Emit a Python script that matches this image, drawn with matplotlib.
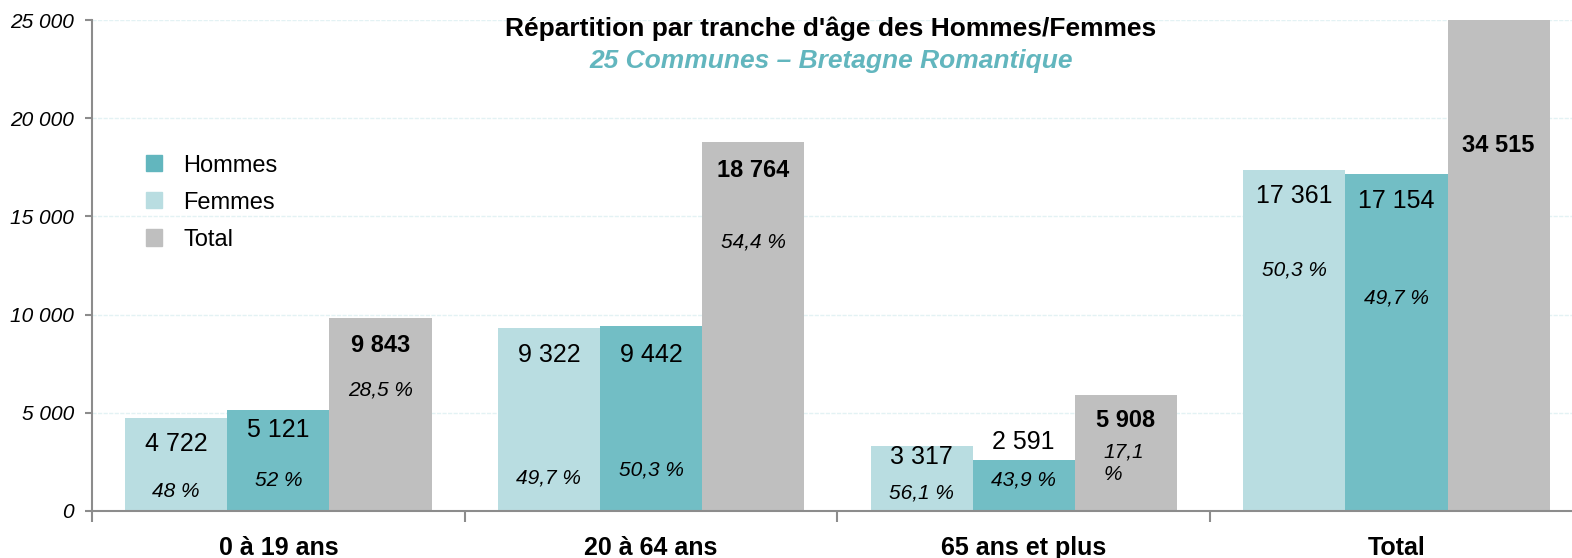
import numpy as np
import matplotlib.pyplot as plt
from matplotlib.patches import Patch

# données
categories = ['0 à 19 ans', '20 à 64 ans', '65 ans et plus', 'Total']
femmes = [4722, 9322, 3317, 17361]
hommes = [5121, 9442, 2591, 17154]
total = [9843, 18764, 5908, 34515]
pct_femmes = ['48 %', '49,7 %', '56,1 %', '50,3 %']
pct_hommes = ['52 %', '50,3 %', '43,9 %', '49,7 %']
pct_total = ['28,5 %', '54,4 %', '17,1\n%', '']

# positions des étiquettes (en unités de l'axe y)
y_val_f = [3400, 7950, 2750, 16050]
y_val_h = [4120, 7950, 3510, 15790]
y_val_t = [8450, 17360, 4630, 18590]
y_pct_f = [970, 1680, 920, 12270]
y_pct_h = [1530, 2090, 1580, 10850]
y_pct_t = [6160, 13700, 2440, 0]

c_h = '#72BEC5'
c_f = '#B9DDE1'
c_t = '#BFBFBF'
c_axis = '#8C8C8C'

plt.rcParams['font.family'] = ['Liberation Sans', 'DejaVu Sans']

fig = plt.figure(figsize=(15.72, 5.58), dpi=100)
ax = fig.add_axes([92 / 1572, 47 / 558, 1 - 92 / 1572, 491 / 558])

x = np.arange(len(categories)) + 0.5
w = 0.274
ax.bar(x - w, femmes, w, color=c_f, zorder=2)
ax.bar(x, hommes, w, color=c_h, zorder=2)
ax.bar(x + w, total, w, color=c_t, zorder=2)

def fmt(v):
    return '{:,}'.format(v).replace(',', ' ')

for i in range(len(categories)):
    ax.text(x[i] - w, y_val_f[i], fmt(femmes[i]), ha='center', va='center', fontsize=18)
    ax.text(x[i], y_val_h[i], fmt(hommes[i]), ha='center', va='center', fontsize=18)
    ax.text(x[i] + w, y_val_t[i], fmt(total[i]), ha='center', va='center', fontsize=17,
            fontweight='bold')
    ax.text(x[i] - w, y_pct_f[i], pct_femmes[i], ha='center', va='center', fontsize=15,
            style='italic')
    ax.text(x[i], y_pct_h[i], pct_hommes[i], ha='center', va='center', fontsize=15,
            style='italic')
    if pct_total[i]:
        if '\n' in pct_total[i]:
            ax.text(x[i] + w - 0.06, y_pct_t[i], pct_total[i], ha='left', va='center',
                    fontsize=15, style='italic', linespacing=1.25)
        else:
            ax.text(x[i] + w, y_pct_t[i], pct_total[i], ha='center', va='center',
                    fontsize=15, style='italic')

ax.set_xlim(0, 1480 / 372.7)
ax.set_ylim(0, 25000)
ax.set_yticks(np.arange(0, 25001, 5000))
ax.set_yticklabels([fmt(v) for v in range(0, 25001, 5000)], fontsize=15, style='italic')
ax.set_xticks(np.arange(0, 4))
ax.set_xticklabels([])
ax.set_xticks(x, minor=True)
ax.set_xticklabels(categories, minor=True, fontsize=18, fontweight='bold')
ax.tick_params(axis='x', which='minor', length=0, pad=18)
ax.tick_params(axis='x', which='major', length=8, color=c_axis, width=1.5)
ax.tick_params(axis='y', length=5, color=c_axis, width=1.5, pad=8)

ax.yaxis.grid(True, color='#E3F2F4', linestyle=(0, (3, 1)), linewidth=1, zorder=0)
for s in ['top', 'right']:
    ax.spines[s].set_visible(False)
for s in ['left', 'bottom']:
    ax.spines[s].set_color(c_axis)
    ax.spines[s].set_linewidth(1.5)

ax.text(0.4993, 0.982, "Répartition par tranche d'âge des Hommes/Femmes", transform=ax.transAxes,
        ha='center', va='center', fontsize=19, fontweight='bold')
ax.text(0.4993, 0.917, '25 Communes – Bretagne Romantique', transform=ax.transAxes,
        ha='center', va='center', fontsize=19, fontweight='bold', style='italic',
        color='#62B6BE')

handles = [Patch(color='#62B6BE'), Patch(color=c_f), Patch(color=c_t)]
ax.legend(handles, ['Hommes', 'Femmes', 'Total'], loc='upper left',
          bbox_to_anchor=(0.0365, 0.726), frameon=False, fontsize=17, borderpad=0,
          borderaxespad=0, handlelength=0.68, handleheight=0.68, handletextpad=0.89,
          labelspacing=0.64)

plt.savefig('out.png', dpi=100)
